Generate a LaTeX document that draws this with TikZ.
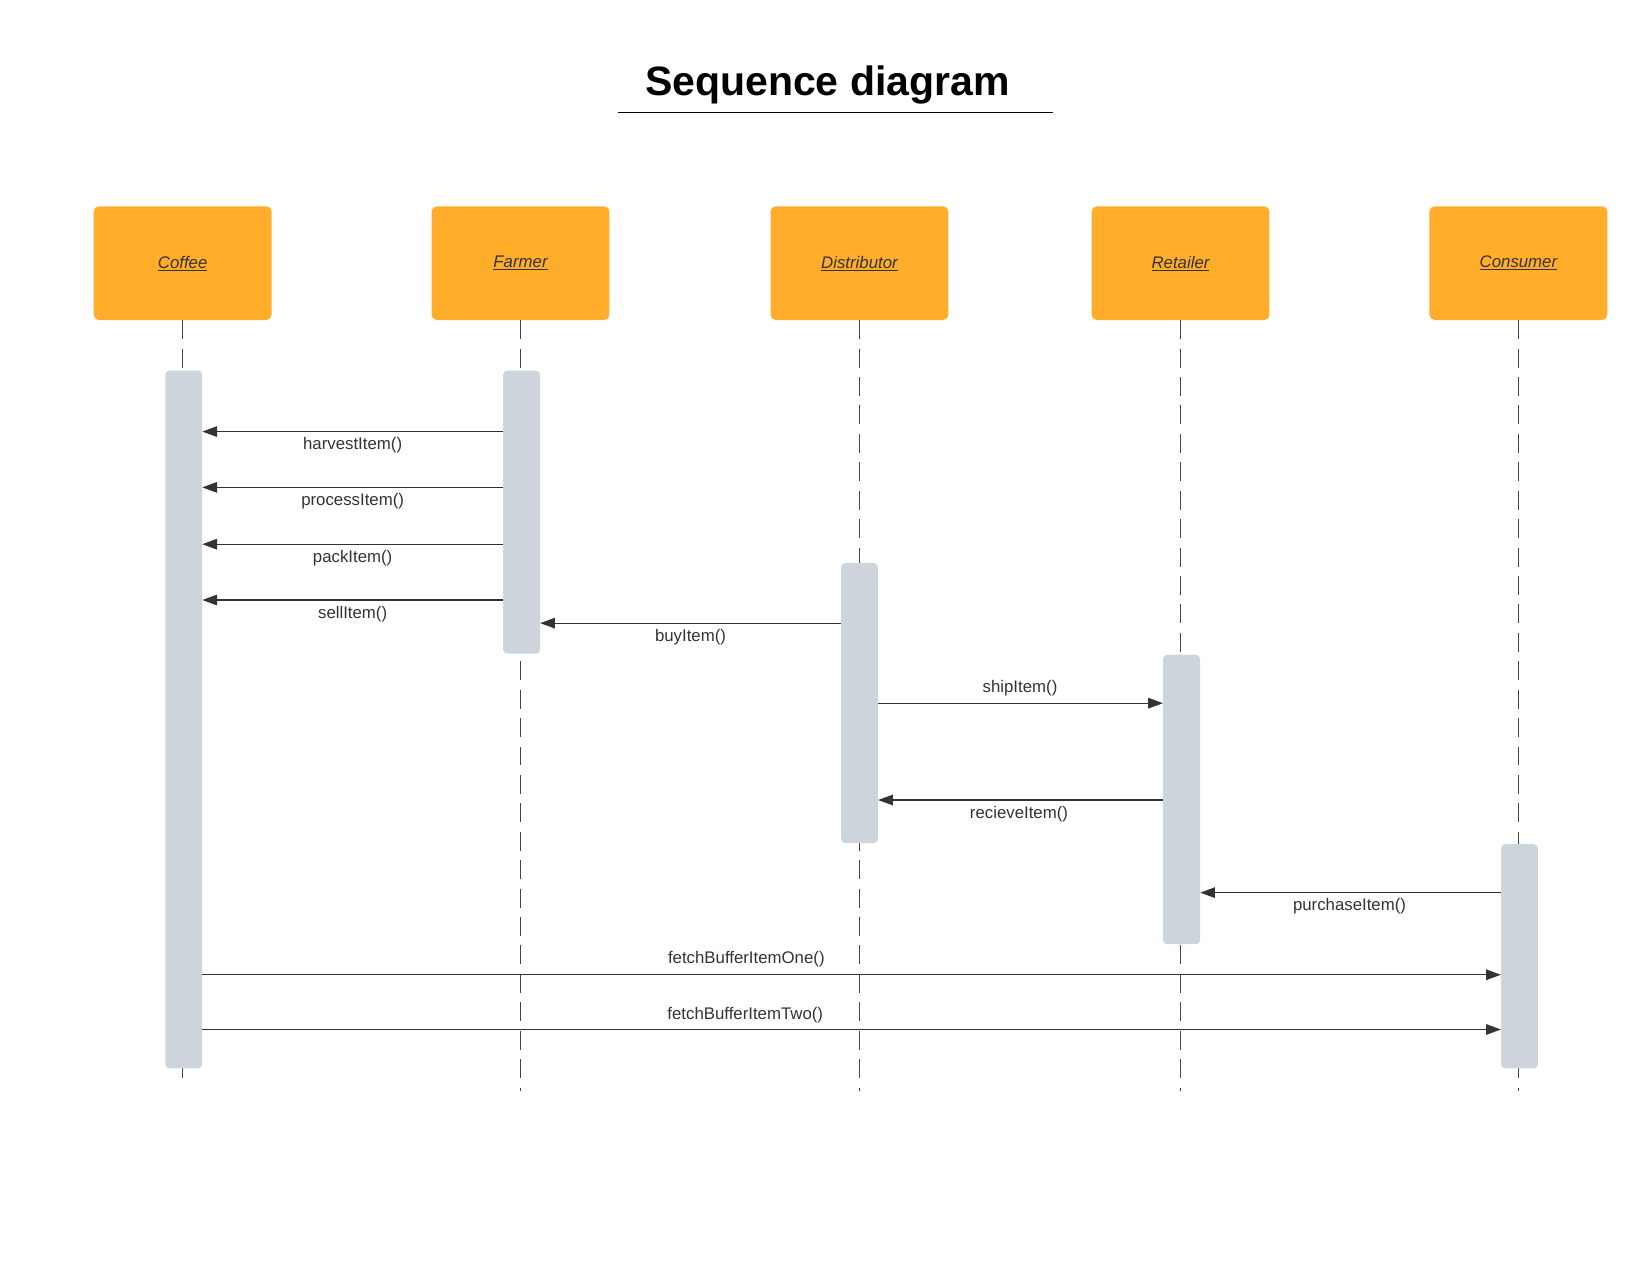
\documentclass[tikz,border=0pt]{standalone}
\usepackage{fontspec}
\setmainfont{Liberation Sans}
\usetikzlibrary{arrows.meta}
\definecolor{actorfill}{HTML}{FFAD2A}
\definecolor{barfill}{HTML}{CED4DB}
\definecolor{ink}{HTML}{333333}
\definecolor{lifeink}{HTML}{444444}
\def\pxu{1.0526pt}
\tikzset{
  actor/.style={fill=actorfill, rounded corners=5*\pxu, minimum width=169*\pxu, minimum height=108*\pxu, inner sep=0pt, font=\fontsize{16.8}{20}\selectfont\itshape, text=ink},
  actbar/.style={fill=barfill, rounded corners=4*\pxu, minimum width=35*\pxu, inner sep=0pt},
  lifeline/.style={draw=lifeink, line width=1.3*\pxu, dash pattern=on 18*\pxu off 9*\pxu},
  msg/.style={draw=ink, line width=1.05*\pxu, -{Triangle[length=14*\pxu,width=10*\pxu]}},
  msglabel/.style={font=\fontsize{16.8}{20}\selectfont, text=ink, inner sep=0pt},
}
\begin{document}
\begin{tikzpicture}[x=1.0526pt,y=-1.0526pt]
\useasboundingbox (0,0) rectangle (1567.5,1211.3);
% title
\node[font=\fontsize{41}{48}\selectfont\bfseries, inner sep=0pt] (title) at (786,81) {Sequence diagram};
\coordinate (ulA) at (587,107);
\coordinate (ulB) at (1000,107);
\draw[line width=1.5*\pxu] (ulA) -- (ulB);
% actors
\node[actor] (co) at (173.5,250) {\underline{Coffee}};
\node[actor] (fa) at (494.5,250) {\underline{Farmer}};
\node[actor] (di) at (816.5,250) {\underline{Distributor}};
\node[actor] (re) at (1121.5,250) {\underline{Retailer}};
\node[actor] (cn) at (1442.5,250) {\underline{Consumer}};
% lifeline ends
\coordinate (coE) at (173.5,1028);
\coordinate (faE) at (494.5,1036);
\coordinate (diE) at (816.5,1036);
\coordinate (reE) at (1121.5,1036);
\coordinate (cnE) at (1442.5,1036);
\draw[lifeline] (co.south) -- (coE);
\draw[lifeline] (fa.south) -- (faE);
\draw[lifeline] (di.south) -- (diE);
\draw[lifeline] (re.south) -- (reE);
\draw[lifeline] (cn.south) -- (cnE);
% activation bars
\node[actbar, minimum height=663*\pxu] (bco) at (174.5,683.5) {};
\node[actbar, minimum height=269*\pxu] (bfa) at (495.5,486.5) {};
\node[actbar, minimum height=266*\pxu] (bdi) at (816.5,668) {};
\node[actbar, minimum height=275*\pxu] (bre) at (1122.5,759.5) {};
\node[actbar, minimum height=213*\pxu] (bcn) at (1443.5,908.5) {};
% messages
\draw[msg] (bfa.west |- 0,410) -- (bco.east |- 0,410);
\node[msglabel] (l1) at (335,423) {harvestItem()};
\draw[msg] (bfa.west |- 0,463) -- (bco.east |- 0,463);
\node[msglabel] (l2) at (335,476) {processItem()};
\draw[msg] (bfa.west |- 0,517) -- (bco.east |- 0,517);
\node[msglabel] (l3) at (335,530) {packItem()};
\draw[msg] (bfa.west |- 0,570) -- (bco.east |- 0,570);
\node[msglabel] (l4) at (335,583) {sellItem()};
\draw[msg] (bdi.west |- 0,592) -- (bfa.east |- 0,592);
\node[msglabel] (l5) at (656,605) {buyItem()};
\draw[msg] (bdi.east |- 0,668) -- (bre.west |- 0,668);
\node[msglabel] (l6) at (969,654) {shipItem()};
\draw[msg] (bre.west |- 0,760) -- (bdi.east |- 0,760);
\node[msglabel] (l7) at (968,773) {recieveItem()};
\draw[msg] (bcn.west |- 0,848) -- (bre.east |- 0,848);
\node[msglabel] (l8) at (1282,861) {purchaseItem()};
\draw[msg] (bco.east |- 0,926) -- (bcn.west |- 0,926);
\node[msglabel] (l9) at (709,911) {fetchBufferItemOne()};
\draw[msg] (bco.east |- 0,978) -- (bcn.west |- 0,978);
\node[msglabel] (l10) at (708,964) {fetchBufferItemTwo()};
\end{tikzpicture}
\end{document}
